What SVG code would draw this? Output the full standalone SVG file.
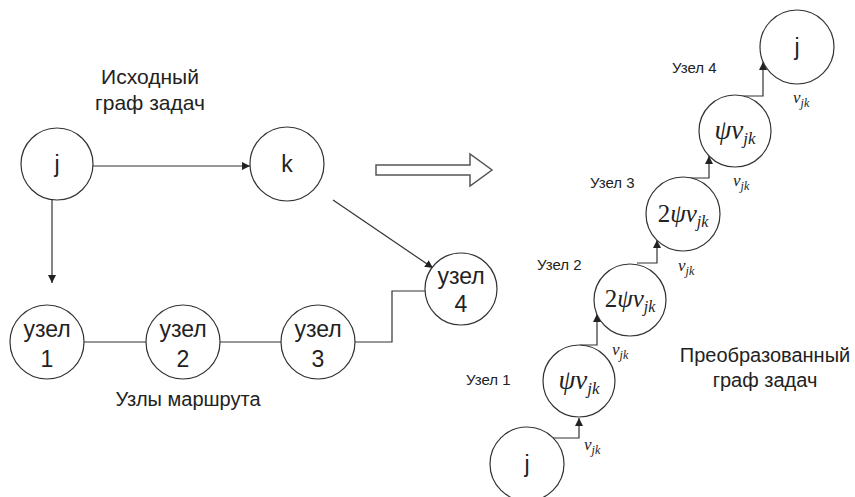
<svg xmlns="http://www.w3.org/2000/svg" width="855" height="497" viewBox="0 0 855 497">
  <defs>
    <marker id="arrow" viewBox="0 0 10 10" refX="10" refY="5" markerWidth="8" markerHeight="8" markerUnits="userSpaceOnUse" orient="auto">
      <path d="M0,0 L10,5 L0,10 z" fill="#222"/>
    </marker>
  </defs>
  <style>
    .node circle { fill: #fff; stroke: #333; stroke-width: 1.2; }
    .lbl { font-family: "Liberation Sans", Arial, sans-serif; fill: #222; text-anchor: middle; }
    .big { font-size: 23px; }
    .cap { font-size: 21px; }
    .cap2 { font-size: 20px; }
    .small { font-size: 15px; text-anchor: start; }
    .math { font-family: "Liberation Serif", "Times New Roman", serif; font-style: italic; fill: #222; }
    .edge { fill: none; stroke: #333; stroke-width: 1.2; }
    .arr { marker-end: url(#arrow); }
  </style>
  <rect width="855" height="497" fill="#fff"/>

  <!-- Source task graph -->
  <text class="lbl cap" x="150" y="84">Исходный</text>
  <text class="lbl cap" x="150" y="110">граф задач</text>

  <g id="connectors">
    <!-- left graph -->
    <line class="edge arr" x1="93" y1="166" x2="250" y2="166"/>
    <line class="edge arr" x1="52" y1="200" x2="52" y2="283"/>
    <line class="edge arr" x1="333" y1="200" x2="433" y2="268"/>
    <line class="edge" x1="84" y1="342" x2="146" y2="342"/>
    <line class="edge" x1="220" y1="342" x2="281" y2="342"/>
    <polyline class="edge" points="355,342 392,342 392,291 425,291"/>
    <!-- transformed graph -->
    <polyline class="edge arr" points="553,438 579,438 579,418"/>
    <polyline class="edge arr" points="580,345 597,345 597,314"/>
    <polyline class="edge arr" points="637,263 657,263 657,240"/>
    <polyline class="edge arr" points="688,178 709,178 709,156"/>
    <polyline class="edge arr" points="743,96 763,96 763,62"/>
  </g>

  <!-- transformation arrow -->
  <polygon points="376,165 470,165 470,154 492,170 470,186 470,175 376,175" fill="#fff" stroke="#555" stroke-width="1.5"/>

  <g id="node-j" class="node">
    <circle cx="57" cy="164" r="36"/>
    <text class="lbl big" x="57" y="172">j</text>
  </g>
  <g id="node-k" class="node">
    <circle cx="287" cy="164" r="37"/>
    <text class="lbl big" x="287" y="172">k</text>
  </g>
  <g id="node-u1" class="node">
    <circle cx="47" cy="342" r="37"/>
    <text class="lbl big" x="47" y="337">узел</text>
    <text class="lbl big" x="47" y="367">1</text>
  </g>
  <g id="node-u2" class="node">
    <circle cx="183" cy="342" r="37"/>
    <text class="lbl big" x="183" y="337">узел</text>
    <text class="lbl big" x="183" y="367">2</text>
  </g>
  <g id="node-u3" class="node">
    <circle cx="318" cy="342" r="37"/>
    <text class="lbl big" x="318" y="337">узел</text>
    <text class="lbl big" x="318" y="367">3</text>
  </g>
  <g id="node-u4" class="node">
    <circle cx="461" cy="289" r="36"/>
    <text class="lbl big" x="461" y="284">узел</text>
    <text class="lbl big" x="461" y="312">4</text>
  </g>
  <text class="lbl cap2" x="188" y="406">Узлы маршрута</text>

  <!-- Transformed task graph -->
  <g id="node-j-bottom" class="node">
    <circle cx="527" cy="464" r="37"/>
    <text class="lbl big" x="527" y="472">j</text>
  </g>
  <g id="node-t1" class="node">
    <circle cx="579" cy="381" r="36"/>
    <text class="math" x="579" y="389" text-anchor="middle" font-size="27">ψv<tspan font-size="17" dy="5">jk</tspan></text>
  </g>
  <g id="node-t2" class="node">
    <circle cx="630" cy="300" r="36"/>
    <text class="math" x="630" y="307" text-anchor="middle" font-size="25"><tspan font-style="normal">2</tspan>ψv<tspan font-size="16" dy="5">jk</tspan></text>
  </g>
  <g id="node-t3" class="node">
    <circle cx="683" cy="214" r="37"/>
    <text class="math" x="683" y="222" text-anchor="middle" font-size="25"><tspan font-style="normal">2</tspan>ψv<tspan font-size="16" dy="5">jk</tspan></text>
  </g>
  <g id="node-t4" class="node">
    <circle cx="735" cy="131" r="36"/>
    <text class="math" x="735" y="139" text-anchor="middle" font-size="27">ψv<tspan font-size="17" dy="5">jk</tspan></text>
  </g>
  <g id="node-j-top" class="node">
    <circle cx="797" cy="47" r="37"/>
    <text class="lbl big" x="797" y="55">j</text>
  </g>

  <!-- edge weights -->
  <text class="math" x="584" y="450" font-size="17">v<tspan font-size="12" dy="4">jk</tspan></text>
  <text class="math" x="612" y="355" font-size="17">v<tspan font-size="12" dy="4">jk</tspan></text>
  <text class="math" x="678" y="271" font-size="17">v<tspan font-size="12" dy="4">jk</tspan></text>
  <text class="math" x="733" y="186" font-size="17">v<tspan font-size="12" dy="4">jk</tspan></text>
  <text class="math" x="793" y="103" font-size="17">v<tspan font-size="12" dy="4">jk</tspan></text>

  <!-- route node captions -->
  <text class="lbl small" x="466" y="385">Узел 1</text>
  <text class="lbl small" x="537" y="270">Узел 2</text>
  <text class="lbl small" x="590" y="188">Узел 3</text>
  <text class="lbl small" x="672" y="73">Узел 4</text>

  <text class="lbl cap2" x="765" y="362">Преобразованный</text>
  <text class="lbl cap2" x="765" y="387">граф задач</text>
</svg>
